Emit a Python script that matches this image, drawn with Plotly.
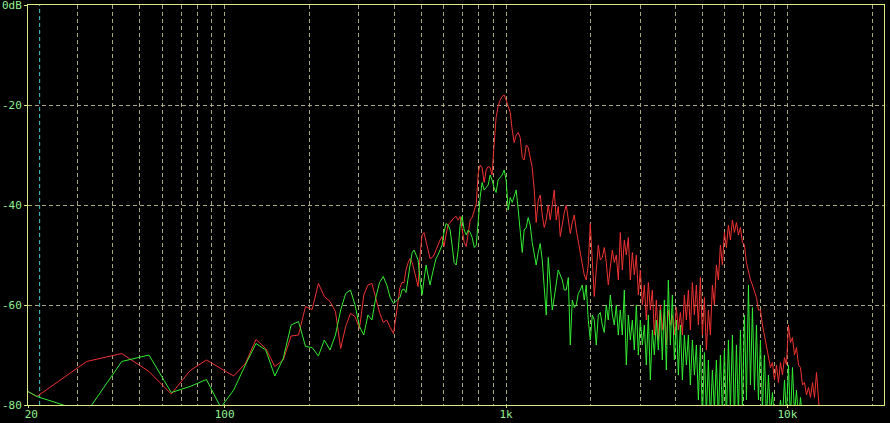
import math
import plotly.graph_objects as go

# ---------------- data ----------------
# low band: FFT bins (44.1 kHz / 4096)
LOW_HZ = [10.77, 21.53, 32.30, 43.07, 53.83, 64.60, 75.37, 86.13, 96.90, 107.67,
          118.43, 129.20, 139.97, 150.73, 161.50, 172.27, 183.03, 193.80, 204.57, 215.33,
          226.10, 236.87, 247.63, 258.40, 269.17, 279.93, 290.70, 301.47, 312.23, 323.00,
          333.77, 344.53, 355.30, 366.07, 376.83, 387.60, 398.36]
RED_LOW = [-69, -78.3, -71.3, -69.7, -73.3, -77.8, -73.1, -71, -72.7, -74.2,
           -71.7, -66.9, -68.7, -72.3, -71, -66.2, -66, -60.3, -60.9, -55.7,
           -58.3, -59.3, -61.3, -68.7, -64.3, -61.7, -62.3, -64.7, -58, -56,
           -55.7, -58.5, -61.5, -63.5, -63, -64.5, -65.7]
GREEN_LOW = [-69, -78.3, -81.5, -71.3, -70, -77.5, -76.3, -74.9, -80.5, -77,
             -72, -67.7, -69, -74.2, -70.7, -64, -63.3, -68.3, -68.5, -70.2,
             -67, -69, -66, -61, -57.7, -57, -60, -64.3, -66, -62,
             -63, -58.5, -55.5, -54.3, -56, -58.5, -59.7]

# high band: readings along the frequency axis
HIGH_HZ = [420, 427, 434, 441, 449, 456, 464, 471, 479, 487,
           495, 503, 511, 520, 528, 537, 546, 555, 564, 573,
           583, 593, 602, 612, 622, 633, 643, 654, 665, 676,
           687, 698, 710, 722, 734, 746, 758, 771, 784, 797,
           809, 822, 836, 850, 864, 878, 892, 907, 922, 937,
           953, 969, 985, 1001, 1018, 1035, 1052, 1069, 1087, 1105,
           1123, 1142, 1160, 1180, 1199, 1219, 1239, 1260, 1280, 1302,
           1323, 1345, 1367, 1390, 1413, 1436, 1460, 1484, 1508, 1533,
           1559, 1585, 1611, 1637, 1665, 1692, 1720, 1748, 1777, 1807,
           1836, 1866, 1897, 1928, 1960, 1993, 2026, 2059, 2093, 2128,
           2163, 2199, 2235, 2272, 2309, 2348, 2387, 2426, 2466, 2507,
           2548, 2590, 2633, 2676, 2721, 2766, 2812, 2858, 2905, 2953,
           3002, 3052, 3102, 3153, 3205, 3258, 3312, 3367, 3422, 3479,
           3536, 3594, 3654, 3714, 3775, 3838, 3901, 3966, 4031, 4098,
           4166, 4235, 4305, 4376, 4448, 4521, 4596, 4672, 4749, 4827,
           4907, 4988, 5070, 5154, 5239, 5326, 5414, 5503, 5594, 5687,
           5781, 5876, 5973, 6072, 6172, 6274, 6378, 6483, 6590, 6699,
           6810, 6922, 7037, 7153, 7271, 7391, 7513, 7637, 7763, 7891,
           8022, 8154, 8289, 8426, 8565, 8707, 8851, 8997, 9145, 9296,
           9450, 9606, 9765, 9926, 10090, 10257, 10426, 10598, 10773, 10951,
           11133, 11316, 11503, 11693, 11886, 12083, 12282, 12485, 12691, 12901,
           13115]

RED_HIGH = [-56.5, -55.5, -55.5, -53, -51.5, -50.7, -51.5, -53, -55, -56.3,
            -50, -46, -45.5, -47.3, -49, -50.7, -50.5, -50, -49, -48,
            -47, -46.3, -48.3, -46, -44, -43.5, -43, -42.5, -42.3, -43,
            -42.3, -45, -47.5, -48.3, -45.5, -43, -42.5, -41, -39.7, -33.5,
            -32, -32.5, -35.5, -33, -32.3, -32.5, -34, -28, -22.5, -20.3,
            -19, -18.3, -18, -19, -20.5, -21.5, -25, -27.5, -26, -25.5,
            -26.5, -30.5, -31, -28, -28.5, -30.5, -32.5, -37, -43.5, -39,
            -38, -42, -44.5, -43, -40, -43, -39.5, -37, -43, -40.3,
            -46.3, -43.5, -41.5, -40, -43, -45.7, -43.5, -42, -45, -47.5,
            -49, -52, -54, -55, -52, -43.7, -50, -58.3, -53, -48,
            -51, -50.5, -48.5, -51.5, -56, -52, -49, -51.5, -50, -55,
            -45.5, -53, -47, -50, -46.5, -55, -49.5, -54, -50, -58,
            -53, -60, -56, -63, -55.5, -61, -57, -66, -59, -67,
            -60, -65, -61.5, -68, -61, -64, -62, -66, -60.5, -65,
            -61.5, -66, -58, -63, -57, -65, -55.5, -62, -56, -64,
            -54.5, -66, -58.5, -69, -61, -66, -56, -60, -52, -55,
            -48, -52, -45.5, -48.5, -44, -47, -43, -45.5, -43.5, -46,
            -44.5, -47.5, -48, -51.5, -53.5, -55, -56, -57.5, -58.5, -61,
            -61, -64, -66, -68.5, -70, -72.5, -71.5, -75, -72, -75.5,
            -71.5, -74, -70.5, -72, -64, -67.5, -66.5, -70, -68.5, -72,
            -72.5, -76, -75.5, -78, -76.5, -78.5, -75.5, -78.5, -73.5, -80.5,
            -84]

GREEN_HIGH = [-58.5, -57, -56.8, -57.5, -55, -52, -49.5, -49, -50, -51,
              -55, -58, -55, -52, -54, -56, -54, -52.5, -50.7, -50,
              -49, -48, -45.5, -43.7, -44, -45, -48, -51.5, -52, -49,
              -44, -42.3, -45, -46, -45, -45.5, -46.5, -48.5, -48, -42,
              -38.5, -35.5, -37, -36.5, -36, -34, -35, -36.5, -37.5, -35,
              -34.5, -34, -33, -35, -41, -38.5, -39.5, -38, -37, -41,
              -46, -49.5, -45, -44.5, -42.5, -44, -47.5, -50, -52, -49.5,
              -47.7, -51, -57, -62, -50.5, -56, -61, -58.5, -56, -53,
              -54, -55, -57, -57, -54.5, -68, -59, -60.5, -60, -57.7,
              -57, -56, -59, -56, -63, -67, -62, -63, -68, -62,
              -61.5, -64, -65.5, -60, -63, -58, -62, -64, -60, -66,
              -61, -66, -57, -72, -62, -67, -63, -69, -60, -70,
              -63, -68, -64, -72, -62, -75, -65, -70, -63, -69,
              -61, -71, -59, -73, -55, -68, -58, -71, -63, -74,
              -64, -75, -66, -72, -66, -76, -67, -74, -68, -79,
              -68, -83, -69.5, -82, -71, -83, -73, -81, -71, -83,
              -70, -82, -69, -83, -67, -81, -66, -83, -68, -82,
              -65, -81, -62, -79, -56, -76, -60.5, -77, -64, -79,
              -67, -81, -70, -83, -74, -82, -77.5, -83, -80, -83,
              -79, -83, -75, -82, -72, -83, -72.5, -82, -77, -83,
              -78.5, -83, -81, -84, -82, -85, -84, -86, -85, -86,
              -88]

FREQ = LOW_HZ + HIGH_HZ
RED = RED_LOW + RED_HIGH
GREEN = GREEN_LOW + GREEN_HIGH

X_TICKS = [20, 100, 1000, 10000]
X_TICK_TEXT = ["\u00a020", "100", "1k", "10k"]
X_GRID = [30, 40, 50, 60, 70, 80, 90, 200, 300, 400, 500, 600, 700, 800, 900,
          2000, 3000, 4000, 5000, 6000, 7000, 8000, 9000, 20000]
Y_TICKS = [0, -20, -40, -60, -80]
Y_TICK_TEXT = ["0dB", "-20", "-40", "-60", "-80"]
CURSOR_HZ = 22
MARK_HZ = 118.4
F_MIN, F_MAX = 20, 22050
DB_MIN, DB_MAX = -80, 0

# ---------------- styling ----------------
FRAME = "#e0e880"
GRID = "#a8a878"
LABEL = "#90f090"
RED_C = "#f03232"
GREEN_C = "#32ec32"
CYAN = "#40c8d0"
FONT = dict(family="DejaVu Sans Mono", size=11, color=LABEL)

fig = go.Figure()
fig.add_trace(go.Scatter(x=[CURSOR_HZ, CURSOR_HZ], y=[DB_MIN, DB_MAX], mode="lines",
                         line=dict(color=CYAN, width=1, dash="4px,3px"),
                         hoverinfo="skip", showlegend=False))
fig.add_trace(go.Scatter(x=FREQ, y=RED, mode="lines",
                         line=dict(color=RED_C, width=1), showlegend=False))
fig.add_trace(go.Scatter(x=FREQ, y=GREEN, mode="lines",
                         line=dict(color=GREEN_C, width=1), showlegend=False))
fig.add_trace(go.Scatter(x=[MARK_HZ], y=[0.6], mode="markers", cliponaxis=False,
                         marker=dict(symbol="square", size=3, color=CYAN, line=dict(width=0)),
                         hoverinfo="skip", showlegend=False))

fig.update_layout(
    width=890, height=423,
    margin=dict(l=28, r=6, t=5, b=18, autoexpand=False),
    paper_bgcolor="black", plot_bgcolor="black",
    showlegend=False,
    font=FONT,
)
fig.update_xaxes(
    type="log", range=[math.log10(F_MIN), math.log10(F_MAX)],
    tickmode="array", tickvals=X_TICKS, ticktext=X_TICK_TEXT,
    tickfont=FONT, ticks="outside", ticklen=2, tickcolor=FRAME,
    ticklabelstandoff=-3, ticklabeloverflow="allow",
    showgrid=True, gridcolor=GRID, gridwidth=1, griddash="4px,3px",
    minor=dict(tickmode="array", tickvals=X_GRID, showgrid=True, gridcolor=GRID,
               gridwidth=1, griddash="4px,3px", ticks=""),
    showline=True, linecolor=FRAME, linewidth=1, mirror=True,
    zeroline=False, fixedrange=True, automargin=False,
)
fig.update_yaxes(
    range=[DB_MIN, DB_MAX],
    tickmode="array", tickvals=Y_TICKS, ticktext=Y_TICK_TEXT,
    tickfont=FONT, ticks="outside", ticklen=3, tickcolor=FRAME,
    ticklabeloverflow="allow",
    showgrid=True, gridcolor=GRID, gridwidth=1, griddash="4px,3px",
    showline=True, linecolor=FRAME, linewidth=1, mirror=True,
    zeroline=False, fixedrange=True, automargin=False,
)

fig.write_html("out.html", config={"displayModeBar": False},
               post_script="document.body.style.margin='0';")
